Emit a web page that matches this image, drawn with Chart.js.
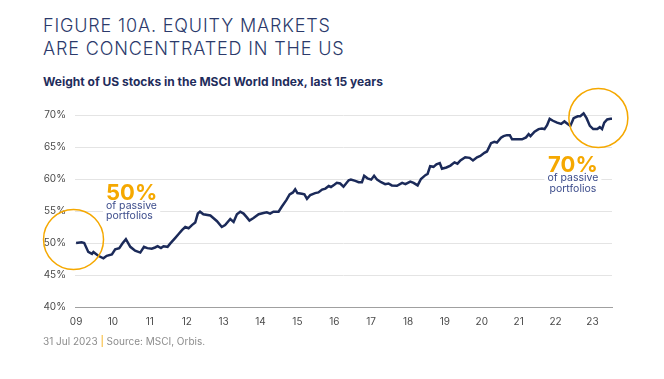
<!DOCTYPE html>
<html>
<head>
<meta charset="utf-8">
<title>Figure 10A</title>
<script src="https://cdn.jsdelivr.net/npm/chart.js@4.4.0/dist/chart.umd.min.js"></script>
<style>
    html, body { margin: 0; padding: 0; background: #fff; }
    body { width: 664px; height: 379px; position: relative; overflow: hidden; font-family: Inter, 'Noto Sans', sans-serif; }
    .title { position: absolute; left: 43px; top: 15px; font-size: 18px; font-weight: 300; line-height: 22.7px; letter-spacing: 0.85px; color: #2b3a6b; white-space: nowrap; }
    .subtitle { position: absolute; left: 43px; top: 74px; font-size: 12px; font-weight: 700; color: #1f2d5c; white-space: nowrap; }
    .source { position: absolute; left: 43px; top: 335px; font-size: 10px; color: #8c8c8c; white-space: nowrap; }
    .source span { color: #f5a800; }
    #wrap { position: absolute; left: 0; top: 0; width: 664px; height: 379px; }
</style>
</head>
<body>
<div class="title">FIGURE 10A. EQUITY MARKETS<br>ARE CONCENTRATED IN THE US</div>
<div class="subtitle">Weight of US stocks in the MSCI World Index, last 15 years</div>
<div id="wrap"><canvas id="usChart" width="664" height="379"></canvas></div>
<div class="source">31 Jul 2023 <span>|</span> Source: MSCI, Orbis.</div>

<script>
// Weight of US stocks in MSCI World (%)
const dates = [
    2009.00, 2009.15, 2009.22, 2009.33, 2009.43, 2009.47, 2009.60, 2009.74, 2009.83, 2009.97,
    2010.06, 2010.17, 2010.26, 2010.35, 2010.47, 2010.60, 2010.74, 2010.84, 2010.93,
    2011.05, 2011.14, 2011.21, 2011.30, 2011.37, 2011.48, 2011.55, 2011.69, 2011.78, 2011.87, 2011.96,
    2012.05, 2012.14, 2012.23, 2012.30, 2012.36, 2012.45, 2012.64, 2012.72, 2012.82, 2012.95,
    2013.04, 2013.18, 2013.27, 2013.36, 2013.45, 2013.54, 2013.63, 2013.70, 2013.81, 2013.95,
    2014.08, 2014.17, 2014.26, 2014.35, 2014.49, 2014.58, 2014.70, 2014.79, 2014.88, 2014.94,
    2015.00, 2015.12, 2015.19, 2015.26, 2015.35, 2015.48, 2015.57, 2015.67, 2015.76, 2015.85, 2015.91,
    2016.00, 2016.07, 2016.16, 2016.25, 2016.39, 2016.45, 2016.57, 2016.66, 2016.75, 2016.81, 2016.90,
    2017.00, 2017.08, 2017.16, 2017.27, 2017.38, 2017.47, 2017.56, 2017.70, 2017.84, 2017.93,
    2018.06, 2018.15, 2018.26, 2018.35, 2018.47, 2018.53, 2018.60, 2018.69, 2018.77, 2018.86, 2018.92,
    2019.04, 2019.15, 2019.26, 2019.34, 2019.42, 2019.55, 2019.67, 2019.76, 2019.87, 2019.96,
    2020.07, 2020.14, 2020.25, 2020.34, 2020.41, 2020.52, 2020.59, 2020.68, 2020.76, 2020.82, 2020.96,
    2021.09, 2021.20, 2021.27, 2021.32, 2021.43, 2021.54, 2021.63, 2021.70, 2021.77, 2021.84, 2021.93,
    2022.04, 2022.15, 2022.24, 2022.33, 2022.40, 2022.49, 2022.60, 2022.67, 2022.76, 2022.84, 2022.93,
    2023.02, 2023.13, 2023.20, 2023.26, 2023.32, 2023.40, 2023.49, 2023.53
];
const usWeight = [
    50.0, 50.1, 50.0, 48.6, 48.3, 48.6, 48.0, 47.6, 48.0, 48.2,
    49.0, 49.2, 49.95, 50.6, 49.4, 48.8, 48.5, 49.4, 49.2,
    49.1, 49.3, 49.5, 49.2, 49.5, 49.4, 49.9, 50.8, 51.4, 52.0, 52.5,
    52.3, 52.8, 53.2, 54.6, 54.9, 54.5, 54.3, 53.9, 53.4, 52.5,
    52.8, 53.75, 53.3, 54.5, 54.9, 54.6, 54.0, 53.5, 53.9, 54.5,
    54.7, 54.8, 54.6, 54.9, 54.9, 55.7, 56.7, 57.6, 57.9, 58.4,
    57.8, 57.7, 57.6, 56.9, 57.5, 57.8, 57.9, 58.35, 58.5, 58.9, 58.75,
    59.1, 59.4, 59.3, 58.8, 59.8, 59.9, 59.7, 59.5, 59.5, 60.5, 60.1,
    59.9, 60.5, 59.9, 59.5, 59.2, 59.3, 59.0, 58.95, 59.4, 59.2,
    59.6, 59.4, 59.0, 60.0, 60.6, 60.8, 62.0, 61.9, 62.3, 62.5, 61.6,
    61.8, 62.1, 62.6, 62.4, 62.9, 63.4, 63.3, 62.9, 63.4, 63.6,
    64.1, 64.3, 65.6, 65.8, 65.7, 66.45, 66.7, 66.85, 66.85, 66.2, 66.2,
    66.2, 66.5, 67.0, 66.7, 67.4, 67.8, 67.9, 67.8, 68.4, 69.4, 69.1,
    68.8, 68.6, 69.0, 68.6, 68.3, 69.5, 69.8, 69.8, 70.25, 69.5, 68.3,
    67.8, 67.8, 68.1, 67.8, 68.8, 69.3, 69.4, 69.4
];
const yearTicks = [2009, 2010, 2011, 2012, 2013, 2014, 2015, 2016, 2017, 2018, 2019, 2020, 2021, 2022, 2023];
const pctTicks = [40, 45, 50, 55, 60, 65, 70];

// call-outs: where the circles and the "x% of passive portfolios" notes sit (in data units)
const rings = [
    { x: 2008.93, y: 50.55, r: 30 },
    { x: 2023.16, y: 69.53, r: 29.5 }
];
const notes = [
    { x: 2009.81, y: 56.72, align: 'left', big: '50%', lines: ['of passive', 'portfolios'] },
    { x: 2022.47, y: 61.09, align: 'center', big: '70%', lines: ['of passive', 'portfolios'] }
];

const ORANGE = '#f5a800';
const NAVY = '#1b2a59';

const calloutPlugin = {
    id: 'callouts',
    beforeDatasetsDraw(chart) {
        const ctx = chart.ctx;
        const xs = chart.scales.x, ys = chart.scales.y;
        ctx.save();
        notes.forEach(n => {
            const px = xs.getPixelForValue(n.x);
            const py = ys.getPixelForValue(n.y);
            ctx.font = '700 22px Inter, "Noto Sans", sans-serif';
            let w = ctx.measureText(n.big).width;
            ctx.font = '400 10.5px Inter, "Noto Sans", sans-serif';
            n.lines.forEach(l => { w = Math.max(w, ctx.measureText(l).width); });
            const left = n.align === 'left' ? px : px - w / 2;
            // white box hides gridlines behind the note
            ctx.fillStyle = '#fff';
            ctx.fillRect(left - 3, py - 18, w + 6, 42);
            ctx.textAlign = n.align;
            ctx.textBaseline = 'alphabetic';
            ctx.fillStyle = ORANGE;
            ctx.font = '700 22px Inter, "Noto Sans", sans-serif';
            ctx.fillText(n.big, px, py);
            ctx.fillStyle = '#3d4d8c';
            ctx.font = '400 10.5px Inter, "Noto Sans", sans-serif';
            ctx.fillText(n.lines[0], px, py + 9);
            ctx.fillText(n.lines[1], px, py + 19.5);
        });
        ctx.restore();
    },
    afterDatasetsDraw(chart) {
        const ctx = chart.ctx;
        const xs = chart.scales.x, ys = chart.scales.y;
        ctx.save();
        ctx.strokeStyle = ORANGE;
        ctx.lineWidth = 1.5;
        rings.forEach(r => {
            ctx.beginPath();
            ctx.arc(xs.getPixelForValue(r.x), ys.getPixelForValue(r.y), r.r, 0, Math.PI * 2);
            ctx.stroke();
        });
        ctx.restore();
    }
};

Chart.defaults.font.family = 'Inter, "Noto Sans", sans-serif';

new Chart(document.getElementById('usChart'), {
    type: 'line',
    data: {
        datasets: [{
            label: 'US weight',
            data: dates.map((d, i) => ({ x: d, y: usWeight[i] })),
            borderColor: NAVY,
            borderWidth: 2.5,
            pointRadius: 0,
            tension: 0,
            clip: false
        }]
    },
    options: {
        responsive: false,
        animation: false,
        devicePixelRatio: 1,
        layout: { padding: { left: 40, right: 52, top: 115, bottom: 46 } },
        plugins: {
            legend: { display: false },
            tooltip: { enabled: false }
        },
        scales: {
            x: {
                type: 'linear',
                min: 2008.97,
                max: 2023.53,
                afterBuildTicks: axis => { axis.ticks = yearTicks.map(v => ({ value: v })); },
                afterFit: axis => { axis.height = 26; },
                grid: { display: false, drawTicks: false },
                border: { display: true, color: '#a0a0a0', width: 1 },
                ticks: {
                    padding: 9,
                    maxRotation: 0,
                    autoSkip: false,
                    color: '#4a4a4a',
                    font: { size: 10 },
                    callback: v => String(v).slice(2)
                }
            },
            y: {
                min: 40,
                max: 70,
                afterBuildTicks: axis => { axis.ticks = pctTicks.map(v => ({ value: v })); },
                afterFit: axis => { axis.width = 35; },
                grid: { color: '#e4e4e4', drawTicks: false },
                border: { display: false },
                ticks: {
                    padding: 9,
                    color: '#4a4a4a',
                    font: { size: 10 },
                    callback: v => v + '%'
                }
            }
        }
    },
    plugins: [calloutPlugin]
});
</script>
</body>
</html>
